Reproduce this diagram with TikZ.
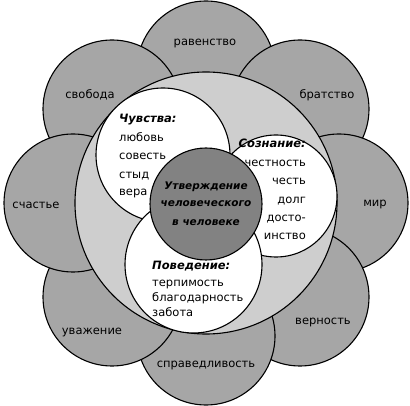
\documentclass[tikz,border=0pt]{standalone}
\usepackage{fontspec}
\setmainfont{DejaVu Sans}
\definecolor{petalgray}{RGB}{166,166,166}
\definecolor{ringgray}{RGB}{206,206,206}
\definecolor{coregray}{RGB}{130,130,130}
\begin{document}
\begin{tikzpicture}[x=1pt,y=-1pt,
  petal/.style={circle,draw,line width=1.1pt,fill=petalgray,inner sep=0pt,minimum size=138pt},
  ring/.style={circle,draw,line width=1.1pt,fill=ringgray,inner sep=0pt,minimum size=262pt},
  whitec/.style={circle,draw,line width=1.1pt,fill=white,inner sep=0pt},
  core/.style={circle,draw,line width=1.1pt,fill=coregray,inner sep=0pt,minimum size=112pt},
  lbl/.style={font=\fontsize{11.5}{14}\selectfont,inner sep=0pt},
  head/.style={font=\fontsize{11.5}{14}\selectfont\bfseries\itshape,inner sep=0pt},
  ctext/.style={font=\fontsize{10.5}{14}\selectfont\bfseries\itshape,inner sep=0pt,anchor=base}]
\useasboundingbox (0,0) rectangle (410,406);
% petals
\node[petal] (p1) at (206,70) {};
\node[petal] (p2) at (300,109) {};
\node[petal] (p3) at (339,203) {};
\node[petal] (p4) at (300,297) {};
\node[petal] (p5) at (206,336) {};
\node[petal] (p6) at (112,297) {};
\node[petal] (p8) at (112,109) {};
\node[petal] (p7) at (73,203) {};
% petal labels
\node[lbl,anchor=base] (t1) at (205,45.5) {равенство};
\node[lbl,anchor=base] (t2) at (327,98.5) {братство};
\node[lbl,anchor=base] (t3) at (375,206.5) {мир};
\node[lbl,anchor=base] (t4) at (323,324.5) {верность};
\node[lbl,anchor=base] (t5) at (206,367.5) {справедливость};
\node[lbl,anchor=base] (t6) at (92,334.5) {уважение};
\node[lbl,anchor=base] (t7) at (36,208.5) {счастье};
\node[lbl,anchor=base] (t8) at (90,98.5) {свобода};
% ring
\node[ring] (ring) at (206,203) {};
% inner circles
\node[whitec,minimum size=134pt] (feel) at (163,155) {};
\node[whitec,minimum size=122pt] (mind) at (276,196) {};
\node[whitec,minimum size=137pt] (act) at (193.5,264.5) {};
\node[core] (core) at (206,204) {};
% Чувства
\node[head,anchor=base west] (f0) at (119,123) {Чувства:};
\node[lbl,anchor=base west] (f1) at (119,141.5) {любовь};
\node[lbl,anchor=base west] (f2) at (119,159.5) {совесть};
\node[lbl,anchor=base west] (f3) at (119,178.5) {стыд};
\node[lbl,anchor=base west] (f4) at (119,195.5) {вера};
% Сознание
\node[head,anchor=base east] (m0) at (306,148) {Сознание:};
\node[lbl,anchor=base east] (m1) at (306,166.5) {честность};
\node[lbl,anchor=base east] (m2) at (306,184.5) {честь};
\node[lbl,anchor=base east] (m3) at (306,203.5) {долг};
\node[lbl,anchor=base east] (m4) at (306,221.5) {досто-};
\node[lbl,anchor=base east] (m5) at (306,239.5) {инство};
% Поведение
\node[head,anchor=base west] (a0) at (152,270) {Поведение:};
\node[lbl,anchor=base west] (a1) at (152,286.5) {терпимость};
\node[lbl,anchor=base west] (a2) at (152,301.5) {благодарность};
\node[lbl,anchor=base west] (a3) at (152,316.5) {забота};
% center
\node[ctext] (c1) at (206,190) {Утверждение};
\node[ctext] (c2) at (206,207) {человеческого};
\node[ctext] (c3) at (206,225.5) {в человеке};
\end{tikzpicture}
\end{document}
